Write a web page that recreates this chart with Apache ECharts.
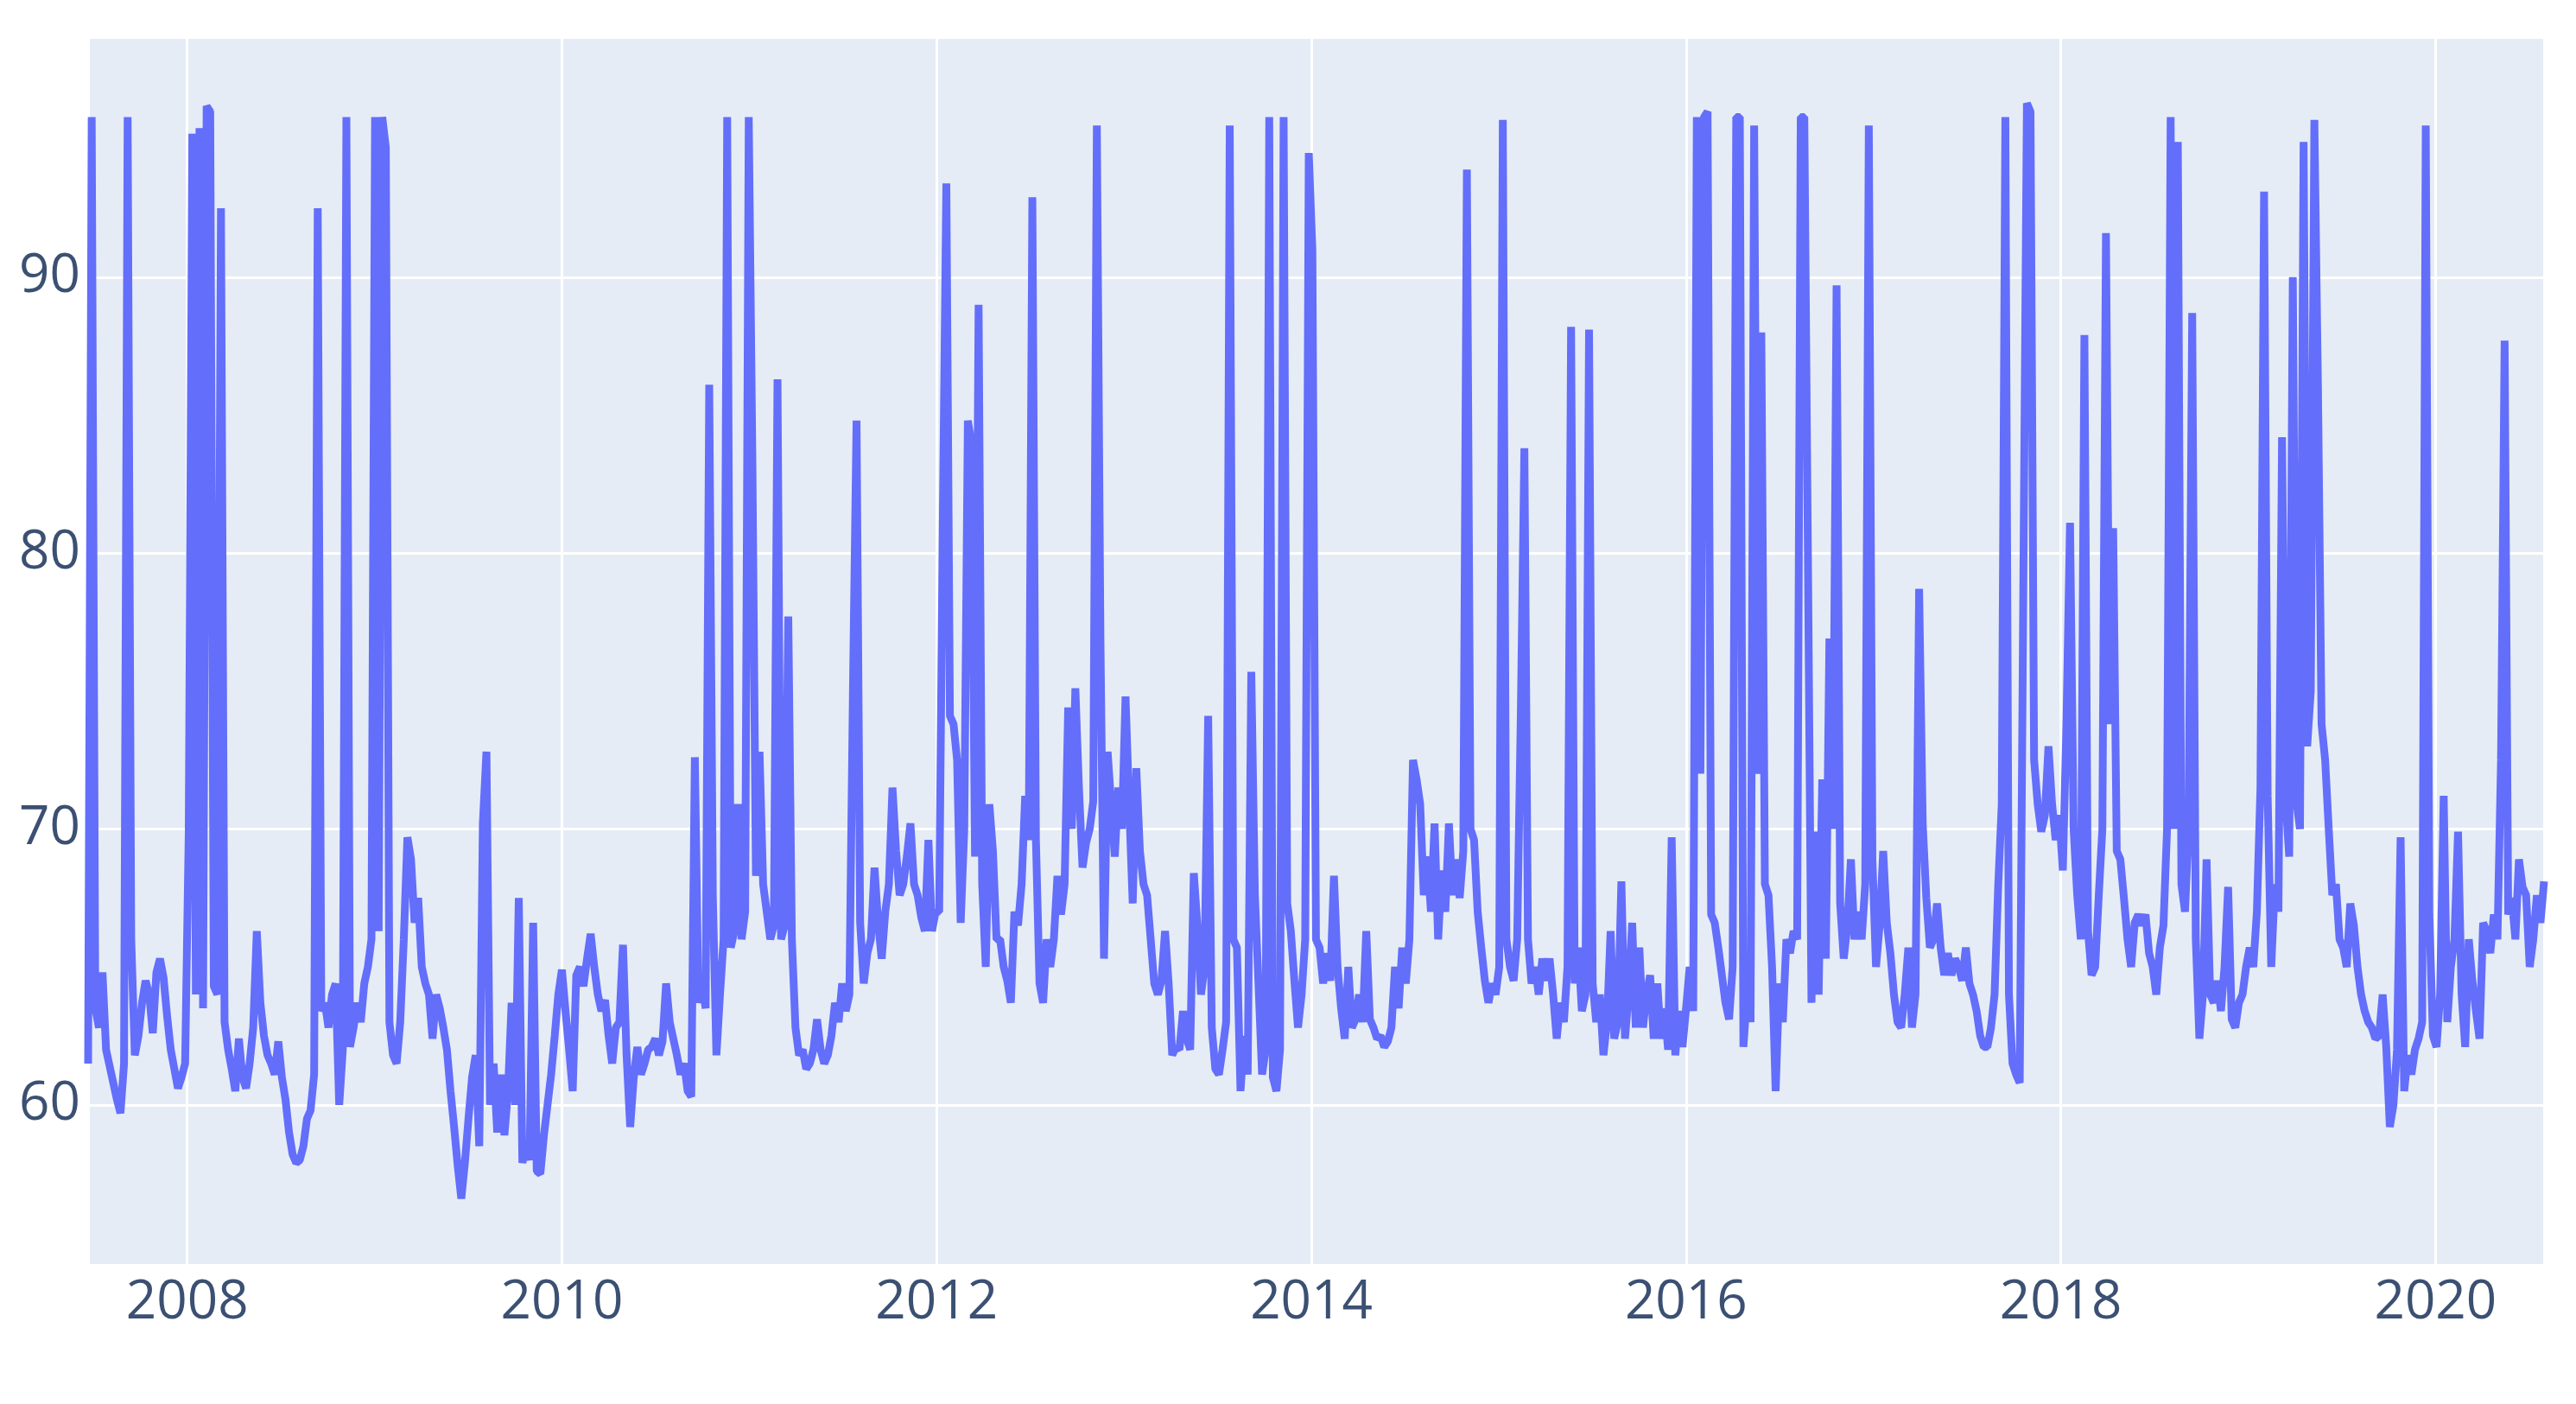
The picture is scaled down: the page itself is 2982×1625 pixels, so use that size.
<!DOCTYPE html>
<html>
<head>
<meta charset="utf-8">
<script src="https://cdn.jsdelivr.net/npm/echarts@6/dist/echarts.min.js"></script>
<style>
  html, body { margin: 0; padding: 0; background: #ffffff; }
  #chart { width: 2982px; height: 1625px; }
</style>
</head>
<body>
<div id="chart"></div>
<script>
// ---- data (weekly samples starting at startDate) ----
const startDate = '2007-06-22';
const stepDays = 7;
const values = [
  61.5, 95.8, 63.5, 62.8, 64.8, 62.0, 61.4, 60.8, 60.2, 59.7,
  61.5, 95.8, 66.0, 61.8, 62.5, 63.7, 64.5, 64.0, 62.6, 64.8,
  65.3, 64.6, 63.2, 62.0, 61.3, 60.6, 61.0, 61.5, 69.8, 95.2,
  64.0, 95.4, 63.5, 96.2, 96.0, 64.3, 64.0, 92.5, 63.0, 62.0,
  61.3, 60.5, 62.4, 61.0, 60.6, 61.5, 62.8, 66.3, 63.7, 62.5,
  61.8, 61.5, 61.1, 62.3, 61.0, 60.2, 59.0, 58.2, 57.9, 58.0,
  58.5, 59.5, 59.8, 61.1, 92.5, 63.4, 63.7, 62.8, 64.0, 64.4,
  60.0, 62.0, 95.8, 62.1, 62.8, 63.7, 63.0, 64.4, 65.0, 66.0,
  95.8, 66.3, 95.8, 94.7, 63.0, 61.8, 61.5, 63.0, 66.0, 69.7,
  68.9, 66.6, 67.5, 65.0, 64.4, 64.0, 62.4, 64.0, 63.5, 62.8,
  62.0, 60.5, 59.2, 57.8, 56.6, 57.9, 59.5, 61.0, 61.8, 58.5,
  70.2, 72.8, 60.0, 61.5, 59.0, 61.1, 58.9, 60.5, 63.7, 60.0,
  67.5, 57.9, 58.5, 58.0, 66.6, 57.6, 57.5, 58.9, 60.0, 61.1,
  62.5, 64.0, 64.9, 63.4, 62.0, 60.5, 64.7, 65.0, 64.3, 65.3,
  66.2, 65.0, 64.0, 63.4, 63.8, 62.5, 61.5, 62.8, 63.0, 65.8,
  61.8, 59.2, 61.0, 62.1, 61.1, 61.5, 62.0, 62.1, 62.4, 61.8,
  62.3, 64.4, 63.0, 62.4, 61.8, 61.1, 61.5, 60.5, 60.3, 72.6,
  63.7, 64.4, 63.5, 86.1, 67.6, 61.8, 64.0, 66.0, 95.8, 65.7,
  66.3, 70.9, 66.0, 67.0, 95.8, 83.5, 68.3, 72.8, 68.0, 67.0,
  66.0, 66.5, 86.3, 66.0, 66.5, 77.7, 66.0, 62.8, 61.8, 62.0,
  61.3, 61.5, 62.0, 63.1, 62.0, 61.5, 61.8, 62.5, 63.7, 63.0,
  64.4, 63.4, 64.0, 75.0, 84.8, 66.6, 64.4, 65.5, 66.0, 68.6,
  66.6, 65.3, 67.0, 68.0, 71.5, 69.2, 67.6, 68.0, 69.0, 70.2,
  68.0, 67.6, 66.8, 66.3, 69.6, 66.3, 67.0, 67.0, 81.0, 93.4,
  74.1, 73.8, 72.5, 66.6, 70.0, 84.8, 84.0, 69.0, 89.0, 68.0,
  65.0, 70.9, 69.2, 66.0, 66.0, 65.0, 64.5, 63.7, 67.0, 66.5,
  68.0, 71.2, 69.6, 92.9, 69.6, 64.4, 63.7, 66.0, 65.0, 66.0,
  68.3, 66.9, 68.0, 74.4, 70.0, 75.1, 71.5, 68.6, 69.5, 70.0,
  71.0, 95.5, 76.9, 65.3, 72.8, 70.9, 69.0, 71.5, 70.0, 74.8,
  70.9, 67.3, 72.2, 69.2, 68.0, 67.6, 66.0, 64.4, 64.0, 64.5,
  66.3, 64.4, 61.8, 62.1, 62.0, 63.4, 62.4, 62.0,
  68.4, 66.5, 64.0, 65.0, 74.1, 62.8, 61.3, 61.1, 62.0, 63.0,
  95.5, 66.0, 65.7, 60.5, 62.5, 61.1, 75.7, 67.6, 64.4, 61.1,
  62.0, 95.8, 61.0, 60.5, 62.0, 95.8, 67.3, 66.3, 64.5, 62.8,
  64.0, 66.0, 94.5, 91.0, 66.0, 65.7, 64.4, 65.5, 64.5, 68.3,
  65.0, 63.5, 62.4, 65.0, 62.8, 63.1, 64.0, 63.0, 66.3, 63.1,
  62.8, 62.4, 62.5, 62.1, 62.3, 62.8, 65.0, 63.5, 65.7, 64.4,
  66.0, 72.5, 71.8, 70.9, 67.6, 69.0, 67.0, 70.2, 66.0, 68.5,
  67.0, 70.2, 67.6, 68.9, 67.5, 69.2, 93.9, 70.0, 69.6, 67.0,
  65.7, 64.5, 63.7, 64.4, 64.0, 65.0, 95.7, 66.0, 65.0, 64.5,
  66.0, 74.1, 83.8, 66.0, 64.4, 65.0, 64.0, 65.3, 64.5, 65.3,
  64.0, 62.4, 63.7, 63.0, 65.0, 88.2, 64.4, 65.7, 63.4, 64.0,
  88.1, 64.4, 63.0, 64.0, 61.8, 63.0, 66.3, 62.4, 63.0, 68.1,
  62.4, 64.0, 66.6, 62.8, 65.7, 62.8, 64.0, 64.7, 62.4, 64.4,
  62.4, 63.5, 62.0, 69.7, 61.8, 63.4, 62.1, 63.5, 65.0, 63.4,
  95.8, 72.0, 95.8, 96.0, 66.9, 66.6, 65.7, 64.7, 63.7, 63.1,
  65.0, 95.8, 95.8, 62.1,
  64.0, 63.0, 95.5, 72.0, 88.0, 68.0, 67.6, 65.0, 60.5, 64.4,
  63.0, 66.0, 65.5, 66.3, 66.0, 95.8, 95.8, 80.0, 63.7, 69.9,
  64.0, 71.8, 65.3, 76.9, 70.0, 89.7, 67.3, 65.3, 66.5, 68.9,
  66.0, 67.0, 66.0, 68.0, 95.5, 68.9, 65.0, 66.5, 69.2, 66.6,
  65.5, 64.0, 63.0, 62.8, 64.0, 65.7, 62.8, 64.0, 78.7, 70.2,
  67.5, 65.7, 66.0, 67.3, 65.7, 64.7, 65.5, 64.7, 65.3, 65.0,
  64.5, 65.7, 64.4, 64.0, 63.4, 62.5, 62.1, 62.1, 62.8, 64.0,
  67.9, 70.9, 95.8, 64.0, 61.5, 61.1, 60.8, 78.8, 96.3, 96.0,
  72.5, 70.9, 69.9, 70.5, 73.0, 70.9, 69.6, 70.5, 68.5, 73.8,
  81.1, 70.0, 67.6, 66.0, 87.9, 66.3, 64.7, 65.0, 67.6, 70.0,
  91.6, 73.8, 80.9, 69.2, 68.9, 67.5, 66.0, 65.0, 66.6, 66.9,
  66.5, 66.9, 65.5, 65.0, 64.0, 65.7, 66.5, 70.0, 95.8, 70.0,
  94.9, 68.0, 67.0, 70.0, 88.7, 66.0, 62.4, 64.0, 68.9, 64.0,
  63.7, 64.5, 63.4, 65.0, 67.9, 63.1, 62.8, 63.7, 64.0, 65.0,
  65.7, 65.0, 67.0, 71.5, 93.1, 71.2, 65.0, 68.0, 67.0, 84.2,
  71.0, 69.0, 90.0, 71.0, 70.0, 94.9, 73.0, 75.0, 95.7, 86.0,
  73.8, 72.5, 70.0, 67.6, 68.0, 66.0, 65.7, 65.0, 67.3, 66.5,
  65.0, 64.0, 63.4, 63.0, 62.8, 62.4, 62.5, 64.0, 62.1, 59.2,
  60.0, 62.0, 69.7, 60.5, 61.8, 61.1, 62.0, 62.4, 63.0, 95.5,
  66.9, 62.5, 62.1, 64.0, 71.2, 63.0, 65.0, 66.0, 69.9, 64.0,
  62.1, 66.0, 64.5, 63.4, 62.4, 66.6, 66.3, 65.5, 66.9, 66.0,
  72.5, 87.7, 66.9, 67.5, 66.0, 68.9, 67.9, 67.6, 65.0, 66.0,
  67.6, 66.6, 68.1
];
const xTickYears = [2008, 2010, 2012, 2014, 2016, 2018, 2020];
const yTicks = [60, 70, 80, 90];
const yRange = [54.2, 98.7];

// ---- helpers ----
const DAY = 86400000;
function toYearFraction(ms) {
  const d = new Date(ms);
  const y = d.getUTCFullYear();
  const a = Date.UTC(y, 0, 1), b = Date.UTC(y + 1, 0, 1);
  return y + (ms - a) / (b - a);
}
const t0 = Date.parse(startDate + 'T00:00:00Z');
const seriesData = values.map((v, i) => [toYearFraction(t0 + i * stepDays * DAY), v]);
const xMin = seriesData[0][0];
const xMax = seriesData[seriesData.length - 1][0];

function isTick(v, list) {
  return list.some(t => Math.abs(v - t) < 1e-6);
}

const chart = echarts.init(document.getElementById('chart'), null, { renderer: 'canvas' });
chart.setOption({
  animation: false,
  backgroundColor: '#ffffff',
  textStyle: { fontFamily: 'Open Sans' },
  grid: {
    left: 102, right: 37, top: 43, bottom: 161,
    show: true, backgroundColor: '#E5ECF6', borderWidth: 0
  },
  xAxis: {
    type: 'value',
    min: xMin, max: xMax,
    splitNumber: 6,
    axisLine: { show: false },
    axisTick: { show: false },
    splitLine: { show: true, lineStyle: { color: '#ffffff', width: 3 } },
    axisLabel: {
      show: true, margin: 13,
      showMinLabel: false, showMaxLabel: false,
      color: '#3b5072', fontSize: 62, fontFamily: 'Open Sans',
      formatter: v => isTick(v, xTickYears) ? String(Math.round(v)) : ''
    }
  },
  yAxis: {
    type: 'value',
    min: yRange[0], max: yRange[1],
    splitNumber: 4,
    axisLine: { show: false },
    axisTick: { show: false },
    splitLine: { show: true, lineStyle: { color: '#ffffff', width: 3 } },
    axisLabel: {
      show: true, margin: 9,
      showMinLabel: false, showMaxLabel: false,
      color: '#3b5072', fontSize: 62, fontFamily: 'Open Sans',
      formatter: v => isTick(v, yTicks) ? String(Math.round(v)) : ''
    }
  },
  series: [{
    type: 'line',
    data: seriesData,
    showSymbol: false,
    symbol: 'none',
    sampling: null,
    clip: true,
    lineStyle: { color: '#636EFA', width: 9 }
  }]
});
</script>
</body>
</html>
